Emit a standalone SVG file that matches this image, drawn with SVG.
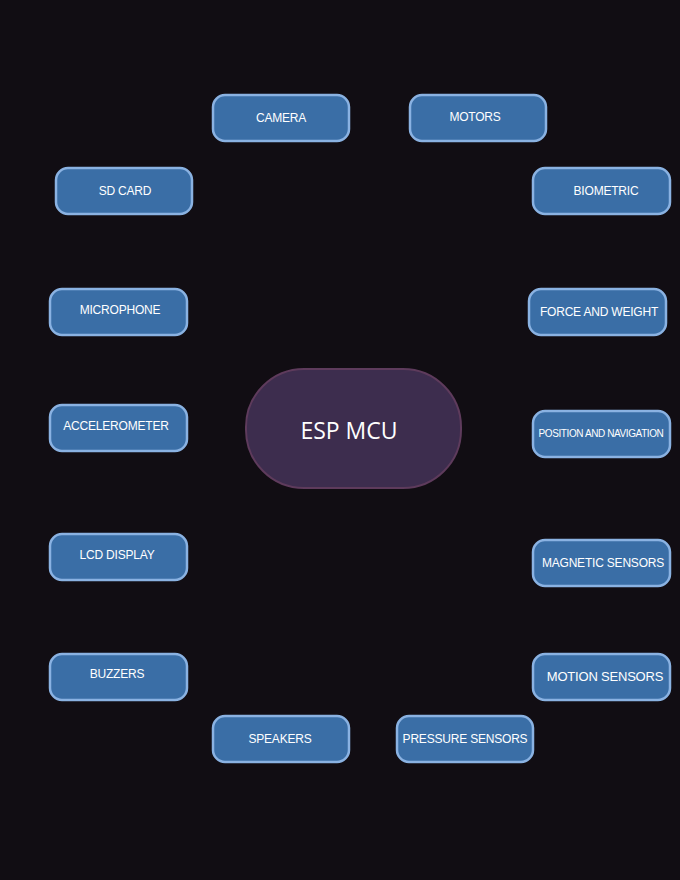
<svg xmlns="http://www.w3.org/2000/svg" width="680" height="880" viewBox="0 0 680 880">
<style>
.n rect{fill:#3a6ea6;stroke:#8ab2e2;stroke-width:2.5}
.n text{fill:#fff;font-family:"Liberation Sans",Arial,sans-serif;font-size:12px;text-anchor:middle;letter-spacing:-0.2px}
</style>
<rect width="680" height="880" fill="#110d13"/>
<g id="connectors"></g>
<g id="esp"><rect x="246" y="369" width="215" height="119" rx="58" fill="#3d2d4e" stroke="#5e3b5c" stroke-width="2"/><text x="349" y="439" fill="#fff" font-family="Open Sans,Liberation Sans,sans-serif" font-size="23" text-anchor="middle">ESP MCU</text></g>
<g id="camera" class="n"><rect x="213" y="95" width="136" height="46" rx="12"/><text x="281" y="122">CAMERA</text></g>
<g id="motors" class="n"><rect x="410" y="95" width="136" height="46" rx="12"/><text x="475" y="121">MOTORS</text></g>
<g id="sdcard" class="n"><rect x="56" y="168" width="136" height="46" rx="12"/><text x="125" y="195">SD CARD</text></g>
<g id="biometric" class="n"><rect x="533" y="168" width="137" height="46" rx="12"/><text x="606" y="195">BIOMETRIC</text></g>
<g id="microphone" class="n"><rect x="50" y="289" width="137" height="46" rx="12"/><text x="120" y="314">MICROPHONE</text></g>
<g id="force" class="n"><rect x="529" y="289" width="137" height="46" rx="12"/><text x="599" y="316">FORCE AND WEIGHT</text></g>
<g id="accel" class="n"><rect x="50" y="405" width="137" height="46" rx="12"/><text x="116" y="430">ACCELEROMETER</text></g>
<g id="position" class="n"><rect x="533" y="411" width="137" height="46" rx="12"/><text x="601" y="437" style="font-size:10px;letter-spacing:-0.4px">POSITION AND NAVIGATION</text></g>
<g id="lcd" class="n"><rect x="50" y="534" width="137" height="46" rx="12"/><text x="117" y="559">LCD DISPLAY</text></g>
<g id="magnetic" class="n"><rect x="533" y="540" width="137" height="46" rx="12"/><text x="603" y="567">MAGNETIC SENSORS</text></g>
<g id="buzzers" class="n"><rect x="50" y="654" width="137" height="46" rx="12"/><text x="117" y="678">BUZZERS</text></g>
<g id="motion" class="n"><rect x="533" y="654" width="137" height="46" rx="12"/><text x="605" y="681" style="font-size:13px">MOTION SENSORS</text></g>
<g id="speakers" class="n"><rect x="213" y="716" width="136" height="46" rx="12"/><text x="280" y="743">SPEAKERS</text></g>
<g id="pressure" class="n"><rect x="397" y="716" width="136" height="46" rx="12"/><text x="465" y="743">PRESSURE SENSORS</text></g>
</svg>
